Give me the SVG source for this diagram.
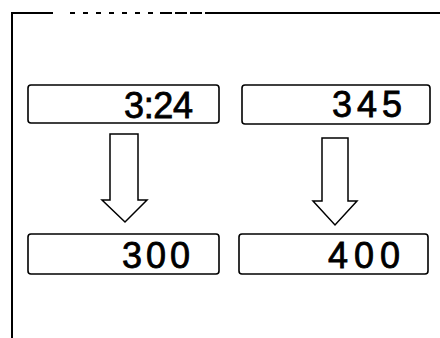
<svg xmlns="http://www.w3.org/2000/svg" width="440" height="338" viewBox="0 0 440 338">
<style>
.frame{fill:none;stroke:#000;stroke-width:2}
.box{fill:#fff;stroke:#000;stroke-width:1.6}
.arrow{fill:#fff;stroke:#000;stroke-width:1.5;stroke-linejoin:miter}
.num{font-family:"Liberation Sans",Arial,sans-serif;font-size:36px;fill:#000;stroke:#000;stroke-width:0.8}
</style>
<rect width="440" height="338" fill="#fff"/>
<g id="frame">
<path class="frame" d="M12,338 V13 H53"/>
<path class="frame" d="M70,13 H160" stroke-dasharray="5,8"/>
<path class="frame" d="M160,13 H210" stroke-dasharray="12,3"/>
<path class="frame" d="M210,13 H440"/>
</g>
<g id="connectors">
<path class="arrow" d="M110,134 V200 H102 L125,222 L147,200 H138 V134 Z"/>
<path class="arrow" d="M322,138 V201 H313 L335,225 L357,201 H348 V138 Z"/>
</g>
<g id="n1"><rect class="box" x="28" y="85" width="191" height="38" rx="3"/><text class="num" x="124" y="118" textLength="69" lengthAdjust="spacing">3:24</text></g>
<g id="n2"><rect class="box" x="242" y="85" width="188" height="39" rx="3"/><text class="num" x="332" y="117" textLength="70" lengthAdjust="spacing">345</text></g>
<g id="n3"><rect class="box" x="28" y="234" width="191" height="40" rx="3"/><text class="num" x="122" y="268" textLength="68" lengthAdjust="spacing">300</text></g>
<g id="n4"><rect class="box" x="239" y="234" width="189" height="40" rx="3"/><text class="num" x="328" y="268" textLength="72" lengthAdjust="spacing">400</text></g>
</svg>
